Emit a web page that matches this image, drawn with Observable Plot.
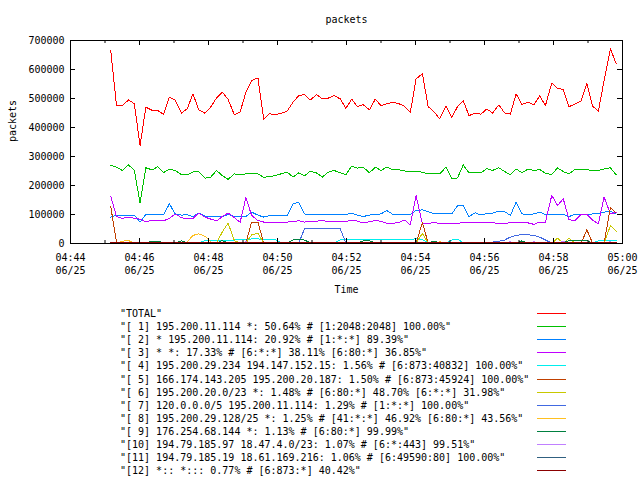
<!DOCTYPE html>
<html><head><meta charset="utf-8">
<script src="https://cdn.jsdelivr.net/npm/d3@7"></script>
<script src="https://cdn.jsdelivr.net/npm/@observablehq/plot@0.6"></script>
<style>
body{margin:0;background:#fff;width:640px;height:480px;overflow:hidden;font-family:"DejaVu Sans Mono",monospace;}
#legend{position:relative;height:180px;font-size:10px;color:#000;}
.row{position:absolute;left:120px;height:13px;line-height:13px;white-space:pre;}
.swatch{position:absolute;left:537px;width:29px;height:1px;}
</style></head><body><div id="chart"></div><div id="legend"></div>
<script>
const times = [
"04:45:10","04:45:20","04:45:30","04:45:41","04:45:51","04:46:01","04:46:11","04:46:22","04:46:32","04:46:42",
"04:46:52","04:47:02","04:47:13","04:47:23","04:47:33","04:47:43","04:47:54","04:48:04","04:48:14","04:48:24",
"04:48:34","04:48:45","04:48:55","04:49:05","04:49:15","04:49:26","04:49:36","04:49:46","04:49:56","04:50:06",
"04:50:17","04:50:27","04:50:37","04:50:47","04:50:57","04:51:08","04:51:18","04:51:28","04:51:38","04:51:49",
"04:51:59","04:52:09","04:52:19","04:52:29","04:52:40","04:52:50","04:53:00","04:53:10","04:53:21","04:53:31",
"04:53:41","04:53:51","04:54:01","04:54:12","04:54:22","04:54:32","04:54:42","04:54:53","04:55:03","04:55:13",
"04:55:23","04:55:33","04:55:44","04:55:54","04:56:04","04:56:14","04:56:25","04:56:35","04:56:45","04:56:55",
"04:57:05","04:57:16","04:57:26","04:57:36","04:57:46","04:57:57","04:58:07","04:58:17","04:58:27","04:58:37",
"04:58:48","04:58:58","04:59:08","04:59:18","04:59:28","04:59:39","04:59:49"];

// values in thousands of packets
const total = [
665,476,476,495,482,337,470,459,458,445,
505,495,449,465,516,461,449,471,502,522,
497,444,453,522,562,571,428,447,445,448,
457,487,510,514,495,513,499,501,510,499,
466,498,472,479,461,498,475,482,487,482,
473,452,568,585,472,455,430,475,434,472,
493,441,449,446,464,450,478,450,446,516,
480,487,478,509,476,553,535,531,472,480,
491,551,474,456,562,671,620];
const s1 = [
270,263,252,271,252,140,261,254,265,245,
256,252,237,237,247,247,225,229,252,234,
221,240,237,240,240,240,228,231,234,240,
246,229,244,234,249,243,229,246,252,244,
237,267,260,263,244,263,252,263,254,254,
250,248,248,246,240,242,240,263,225,226,
271,244,244,244,258,252,261,248,237,257,
244,257,252,255,242,238,261,248,240,255,
255,254,252,252,257,261,237];
const s2 = [
91,98,98,98,98,74,100,99,99,99,
137,102,98,99,93,105,94,93,93,93,
100,93,93,93,108,98,91,96,96,96,
96,137,142,102,99,100,100,100,100,100,
100,105,98,93,98,100,102,114,100,99,
99,100,114,116,110,102,102,102,102,130,
130,93,106,98,104,105,111,110,97,142,
102,100,102,108,100,100,100,100,93,100,
100,100,102,102,108,111,102];
const s3 = [
162,93,87,91,87,84,74,81,81,78,
87,102,89,85,86,105,91,84,78,93,
105,89,73,158,97,79,74,74,74,74,
74,75,79,74,75,77,79,76,75,75,
76,81,77,71,75,79,77,70,70,72,
81,64,166,68,68,74,68,68,68,68,
74,71,71,71,71,71,70,70,71,71,
71,71,66,74,74,166,131,154,82,79,
100,100,81,68,160,102,108];
const s4 = [
2,2,2,2,2,2,2,2,2,2,
2,2,2,2,2,2,10,11,12,12,
12,12,13,13,16,16,13,13,13,3,
2,2,2,2,2,2,2,2,2,12,
13,13,13,13,13,13,13,13,13,13,
13,13,17,13,3,2,2,2,12,15,
3,2,2,2,2,2,2,2,2,2,
2,2,2,2,2,2,2,2,2,2,
2,2,2,9,9,9,9];
const s5 = [
127,5,1,1,1,1,1,1,1,1,
1,1,1,1,1,1,1,1,1,1,
1,1,1,1,74,74,1,1,1,1,
1,1,1,1,1,1,1,1,1,1,
1,1,1,1,1,1,1,1,1,1,
1,1,1,72,1,1,1,1,1,1,
1,1,1,1,1,1,1,1,1,1,
1,1,1,1,1,1,1,1,1,1,
1,47,1,1,1,125,105];
const s6 = [
1,1,1,1,1,1,1,1,1,1,
1,1,1,1,1,1,1,1,1,40,
70,10,1,1,30,35,1,1,1,1,
1,1,1,1,1,1,1,1,1,1,
1,1,1,1,1,1,1,1,1,1,
1,1,1,35,1,1,1,1,1,1,
1,1,1,1,1,1,1,1,1,1,
1,1,1,1,1,1,18,1,18,1,
1,1,1,1,1,62,42];
const s7 = [
1,1,1,1,1,1,1,1,1,1,
1,1,1,1,1,1,1,1,1,1,
1,1,1,1,1,1,1,1,1,1,
1,1,1,51,51,51,51,51,51,51,
1,1,1,1,1,1,1,1,1,1,
1,1,1,1,1,1,1,1,1,1,
1,1,1,1,2,5,8,12,22,28,
31,30,28,22,12,2,1,1,1,1,
1,1,1,1,1,1,1];
const s8 = [
1,1,8,10,2,1,1,1,1,1,
1,1,1,5,28,33,25,5,1,1,
1,1,1,1,1,1,1,1,1,1,
1,1,1,1,1,1,1,1,1,1,
1,1,1,1,1,1,1,5,1,1,
1,1,1,1,1,1,6,1,1,1,
1,1,1,1,1,5,1,1,1,1,
1,1,1,1,1,1,1,1,1,1,
1,1,1,1,1,1,1];
const s9 = [
2,2,2,2,2,2,2,8,8,2,
2,2,9,2,2,2,2,2,2,10,
2,2,2,2,2,2,2,2,2,2,
2,12,13,12,2,2,2,2,2,2,
2,2,2,9,9,2,2,2,2,2,
2,2,2,2,2,8,2,2,2,2,
2,2,2,2,2,2,2,2,2,2,
9,2,2,2,2,2,2,2,10,10,
10,10,2,2,2,2,2];
const s10 = [
1,1,1,1,5,1,1,1,1,1,
1,1,1,1,1,1,1,1,1,1,
1,1,1,6,1,1,1,1,1,1,
1,1,1,1,1,1,1,1,1,1,
1,1,1,1,1,1,1,1,4,1,
1,1,1,1,1,1,1,5,1,1,
1,1,1,1,1,1,1,1,6,1,
1,1,6,1,1,1,1,7,1,1,
1,1,1,1,1,6,1];
const s11 = [
1,1,1,1,1,1,1,1,1,1,
1,1,1,1,1,1,1,1,1,1,
1,1,1,1,1,1,5,1,1,1,
1,1,1,1,1,1,1,1,1,1,
1,1,1,1,1,1,1,1,1,1,
1,1,6,1,1,1,1,1,1,1,
1,1,1,1,1,1,1,1,1,1,
1,1,1,1,1,1,1,1,4,1,
1,1,1,1,1,1,1];
const s12 = [
3,3,3,3,3,3,3,3,3,3,
3,3,3,4,3,3,3,3,3,3,
3,3,3,3,3,3,3,3,4,3,
3,3,3,3,3,3,3,3,3,3,
3,3,3,3,3,3,3,3,3,3,
3,3,3,3,3,3,3,3,3,3,
3,3,3,3,3,4,3,3,3,3,
3,3,3,3,3,3,3,3,3,3,
3,3,3,3,3,3,3];

const names = [
'"TOTAL"',
'"[ 1] 195.200.11.114 *: 50.64% # [1:2048:2048] 100.00%"',
'"[ 2] * 195.200.11.114: 20.92% # [1:*:*] 89.39%"',
'"[ 3] * *: 17.33% # [6:*:*] 38.11% [6:80:*] 36.85%"',
'"[ 4] 195.200.29.234 194.147.152.15: 1.56% # [6:873:40832] 100.00%"',
'"[ 5] 166.174.143.205 195.200.20.187: 1.50% # [6:873:45924] 100.00%"',
'"[ 6] 195.200.20.0/23 *: 1.48% # [6:80:*] 48.70% [6:*:*] 31.98%"',
'"[ 7] 120.0.0.0/5 195.200.11.114: 1.29% # [1:*:*] 100.00%"',
'"[ 8] 195.200.29.128/25 *: 1.25% # [41:*:*] 46.92% [6:80:*] 43.56%"',
'"[ 9] 176.254.68.144 *: 1.13% # [6:80:*] 99.99%"',
'"[10] 194.79.185.97 18.47.4.0/23: 1.07% # [6:*:443] 99.51%"',
'"[11] 194.79.185.19 18.61.169.216: 1.06% # [6:49590:80] 100.00%"',
'"[12] *:: *::: 0.77% # [6:873:*] 40.42%"'];
const colors = ["#ff0000","#00c000","#0080ff","#c000ff","#00eeee","#c04000","#c8c800","#4169e1","#ffc020","#008040","#c080ff","#306080","#8b0000"];
const seriesValues = [total,s1,s2,s3,s4,s5,s6,s7,s8,s9,s10,s11,s12];

const xMajor = ["04:44","04:46","04:48","04:50","04:52","04:54","04:56","04:58","05:00"];
const xMinor = ["04:45","04:47","04:49","04:51","04:53","04:55","04:57","04:59"];
const yTicks = [0,100000,200000,300000,400000,500000,600000,700000];

const parse = d3.utcParse("%m/%d %H:%M:%S");
const T = s => parse("06/25 " + s);
const rows = [];
seriesValues.forEach((vals, si) => vals.forEach((v, i) => rows.push({t: T(times[i]), v: v * 1000, s: names[si]})));
const majorDates = xMajor.map(s => T(s + ":00"));
const minorDates = xMinor.map(s => T(s + ":00"));

const W = 640, H = 300, mt = 40, mr = 18, mb = 57, ml = 70;
const fh = H - mt - mb, fw = W - ml - mr;

const chart = Plot.plot({
  width: W, height: H,
  marginTop: mt, marginRight: mr, marginBottom: mb, marginLeft: ml,
  style: {fontFamily: '"DejaVu Sans Mono", monospace', fontSize: "10px", background: "#fff", color: "#000"},
  x: {type: "utc", domain: [majorDates[0], majorDates[majorDates.length - 1]]},
  y: {domain: [0, 700000]},
  color: {domain: names, range: colors},
  marks: [
    Plot.lineY(rows, {x: "t", y: "v", z: "s", stroke: "s", strokeWidth: 1, shapeRendering: "crispEdges"}),
    Plot.frame({stroke: "#000", shapeRendering: "crispEdges"}),
    Plot.tickX(majorDates, {x: d => d, insetTop: fh - 5, stroke: "#000"}),
    Plot.tickX(majorDates, {x: d => d, insetBottom: fh - 5, stroke: "#000"}),
    Plot.tickX(minorDates, {x: d => d, insetTop: fh - 3, stroke: "#000"}),
    Plot.tickX(minorDates, {x: d => d, insetBottom: fh - 3, stroke: "#000"}),
    Plot.tickY(yTicks, {y: d => d, insetRight: fw - 5, stroke: "#000"}),
    Plot.tickY(yTicks, {y: d => d, insetLeft: fw - 5, stroke: "#000"}),
    Plot.axisX(majorDates, {tickSize: 0, tickPadding: 8, tickFormat: d3.utcFormat("%H:%M\n%m/%d"), lineHeight: 1.3, label: null}),
    Plot.axisY(yTicks, {tickSize: 0, tickPadding: 6, tickFormat: d3.format("d"), label: null}),
    Plot.text(["packets"], {text: d => d, frameAnchor: "top", dy: -21, lineAnchor: "middle"}),
    Plot.text(["packets"], {text: d => d, frameAnchor: "left", dx: -58, rotate: -90, lineAnchor: "middle"}),
    Plot.text(["Time"], {text: d => d, frameAnchor: "bottom", dy: 46, lineAnchor: "middle"})
  ]
});
document.getElementById("chart").appendChild(chart);

const legend = document.getElementById("legend");
names.forEach((n, k) => {
  const r = document.createElement("div");
  r.className = "row";
  r.style.top = (7 + 13.1 * k) + "px";
  r.textContent = n;
  legend.appendChild(r);
  const sw = document.createElement("div");
  sw.className = "swatch";
  sw.style.top = Math.round(13 + 13.1 * k) + "px";
  sw.style.background = colors[k];
  legend.appendChild(sw);
});
</script></body></html>
